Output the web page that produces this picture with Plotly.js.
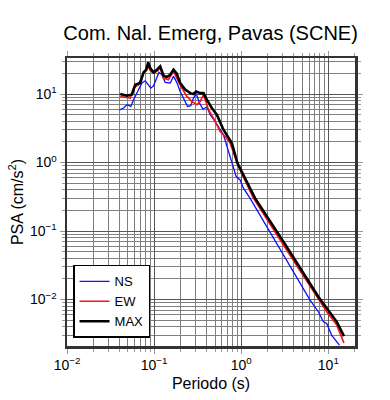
<!DOCTYPE html>
<html>
<head>
<meta charset="utf-8">
<script src="https://cdn.plot.ly/plotly-3.0.1.min.js"></script>
<style>html,body{margin:0;padding:0;background:#fff}#chart{width:390px;height:400px}</style>
</head>
<body>
<div id="chart"></div>
<script>
// Periods (s) and PSA (cm/s^2)
const T_ns = [0.0401,0.0446,0.0488,0.0542,0.0581,0.0645,0.0724,0.079,0.0863,0.0918,0.0985,0.1076,0.1135,0.1228,0.134,0.153,0.167,0.182,0.199,0.217,0.242,0.264,0.283,0.304,0.332,0.363,0.403,0.440,0.502,0.625,0.746,0.875,0.971,1.06,1.26,1.97,4.73,6.17,7.68,8.77,9.59,10.9,13.4];
const psa_ns = [5.89,6.24,6.98,6.59,8.26,10.9,14.5,15.6,13.2,12.2,13.2,18.1,20.7,19.1,14.8,14.5,18.1,14.8,10.9,8.74,6.59,6.75,8.74,10.1,7.38,6.04,6.46,4.98,3.97,2.54,1.22,0.624,0.558,0.422,0.302,0.116,0.0182,0.00984,0.00664,0.00473,0.00449,0.00303,0.00216];

const T_ew = [0.0408,0.0532,0.0581,0.0663,0.0756,0.0811,0.0855,0.0901,0.0985,0.1076,0.1175,0.128,0.146,0.167,0.182,0.208,0.238,0.271,0.310,0.338,0.369,0.421,0.480,0.573,0.653,0.746,0.929,1.38,3.05,9.59,12.5,15.1];
const psa_ew = [9.23,8.74,12.2,13.7,19.8,22.1,25.3,22.1,20.3,21.4,24.0,17.1,16.2,21.4,17.1,12.2,9.23,7.80,6.98,7.80,9.77,5.89,4.46,2.84,2.40,1.92,0.875,0.302,0.0626,0.00664,0.00424,0.00233];

const T_max = [0.0408,0.0488,0.0556,0.0607,0.0693,0.0756,0.0811,0.0855,0.0901,0.0985,0.1076,0.1175,0.1283,0.140,0.153,0.167,0.182,0.199,0.227,0.260,0.283,0.304,0.338,0.369,0.403,0.460,0.525,0.573,0.625,0.780,0.904,1.44,3.05,7.68,10.9,12.5,15.1];
const psa_max = [10.0,9.44,9.8,13.7,14.5,20.7,22.6,29.0,24.0,20.7,22.6,25.3,18.5,17.7,19.1,22.6,19.8,14.5,11.6,10.3,10.0,10.9,10.3,10.3,8.26,6.24,4.98,3.97,3.01,1.92,0.98,0.302,0.070,0.0110,0.00593,0.00473,0.00292];

const majorVals = [0.001,0.01,0.1,1,10,100];
const majorText = ['10<sup>−3</sup>','10<sup>−2</sup>','10<sup>−1</sup>','10<sup>0</sup>','10<sup>1</sup>','10<sup>2</sup>'];
const minorVals = [];
[0.001,0.01,0.1,1,10].forEach(d => { for (let k = 2; k <= 9; k++) minorVals.push(+(d*k).toPrecision(3)); });

const font = 'Liberation Sans, Arial, Helvetica, sans-serif';

const traces = [
  {x: T_ns, y: psa_ns, name: 'NS', mode: 'lines', line: {color: '#1010ff', width: 1.3}},
  {x: T_ew, y: psa_ew, name: 'EW', mode: 'lines', line: {color: '#ff1010', width: 1.6}},
  {x: T_max, y: psa_max, name: 'MAX', mode: 'lines', line: {color: '#000000', width: 2.6}}
];

const axisCommon = {
  type: 'log',
  tickmode: 'array',
  tickvals: majorVals,
  ticktext: majorText,
  showgrid: true,
  gridcolor: '#555',
  gridwidth: 1,
  ticks: 'outside',
  ticklen: 5,
  tickcolor: '#999',
  showline: true,
  linecolor: '#333',
  linewidth: 2.5,
  mirror: 'allticks',
  zeroline: false,
  tickfont: {family: font, size: 14, color: '#000'},
  minor: {tickmode: 'array', tickvals: minorVals, showgrid: true, gridcolor: '#808080', gridwidth: 1, ticks: 'outside', ticklen: 3, tickcolor: '#999'}
};

const layout = {
  width: 390, height: 400,
  margin: {l: 67, r: 35, t: 58, b: 54},
  paper_bgcolor: '#fff', plot_bgcolor: '#fff',
  font: {family: font, color: '#000'},
  title: {text: 'Com. Nal. Emerg, Pavas (SCNE)', font: {family: font, size: 20, color: '#000'}, x: 0.54, xanchor: 'center', y: 0.918, yanchor: 'middle', xref: 'container', yref: 'container'},
  xaxis: Object.assign({}, axisCommon, {range: [-2, 1.306], title: {text: 'Periodo (s)', font: {family: font, size: 16}, standoff: 6}}),
  yaxis: Object.assign({}, axisCommon, {range: [-2.678, 1.526], title: {text: 'PSA (cm/s<sup>2</sup>)', font: {family: font, size: 16}, standoff: 3}}),
  showlegend: true,
  legend: {x: 0.021, y: 0.028, xanchor: 'left', yanchor: 'bottom', bgcolor: '#fff', bordercolor: '#000', borderwidth: 1.5, font: {family: font, size: 13, color: '#000'}, itemwidth: 30, tracegroupgap: 0}
};

Plotly.newPlot('chart', traces, layout, {staticPlot: true, displayModeBar: false});
</script>
</body>
</html>
